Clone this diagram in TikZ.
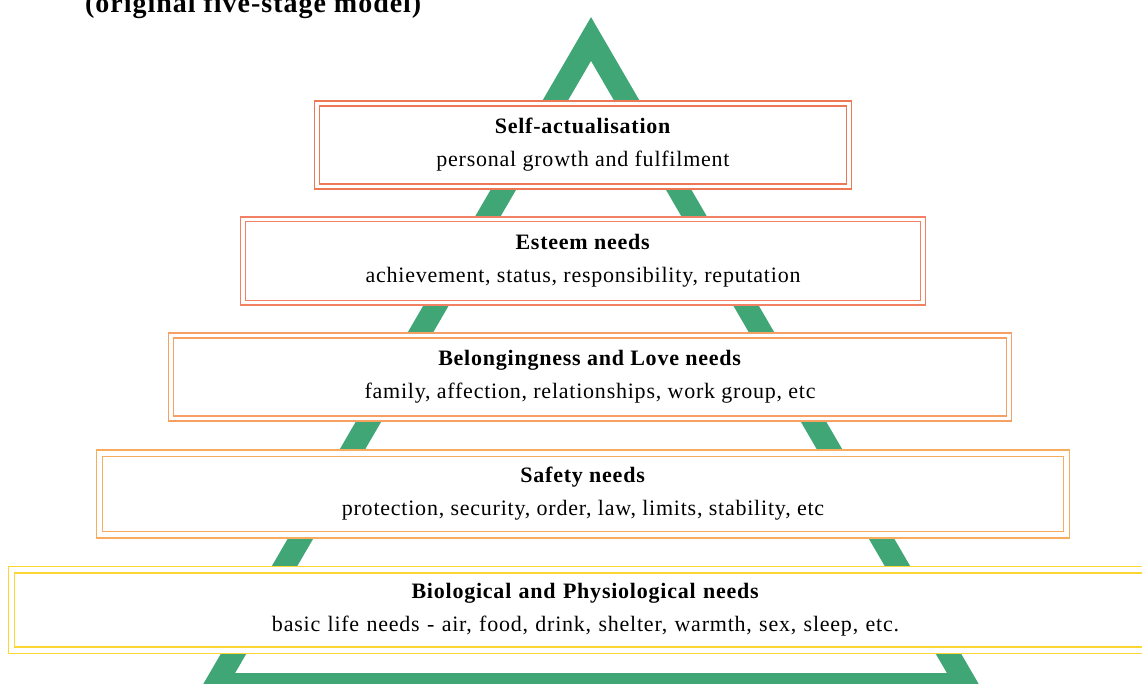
\documentclass[tikz,border=0pt]{standalone}
\usepackage{fontspec}
\setmainfont{Liberation Serif}[LetterSpace=3.5]
\definecolor{tri}{RGB}{64,166,118}
\definecolor{cA}{RGB}{236,120,86}
\definecolor{cB}{RGB}{242,128,100}
\definecolor{cC}{RGB}{246,160,100}
\definecolor{cD}{RGB}{248,172,96}
\definecolor{cE}{RGB}{252,214,50}
\tikzset{
  needbox/.style={draw=#1, line width=1.4pt, double=white, double distance=3.4pt,
    fill=white, align=center, inner sep=0pt,
    font=\fontsize{22}{33}\selectfont},
  tribar/.style={draw=tri, line width=22pt, line join=miter}
}
\begin{document}
\begin{tikzpicture}[x=1pt,y=-1pt]
\useasboundingbox (0,0) rectangle (1142,684);
\clip (0,0) rectangle (1142,684);
\fill[white] (0,0) rectangle (1142,684);
\node[anchor=base west, font=\fontsize{28}{32}\selectfont\bfseries, inner sep=0pt] (title) at (85,13) {(original five-stage model)};
\coordinate (tl) at (216,684);
\coordinate (tt) at (591,39);
\coordinate (tr) at (966,684);
\draw[tribar] (tl) -- (tt) -- (tr) -- cycle;
\node[needbox=cA, minimum width=532pt, minimum height=83pt] (self) at (583,145)
  {\textbf{Self-actualisation}\\personal growth and fulfilment};
\node[needbox=cB, minimum width=680pt, minimum height=83.5pt] (esteem) at (583,261)
  {\textbf{Esteem needs}\\achievement, status, responsibility, reputation};
\node[needbox=cC, minimum width=838pt, minimum height=83pt] (love) at (590,377)
  {\textbf{Belongingness and Love needs}\\family, affection, relationships, work group, etc};
\node[needbox=cD, double distance=5pt, minimum width=967pt, minimum height=81.5pt] (safety) at (583,494)
  {\textbf{Safety needs}\\protection, security, order, law, limits, stability, etc};
\node[needbox=cE, double distance=5pt, minimum width=1148pt, minimum height=80.5pt, text width=1148pt] (bio) at (585.5,610)
  {\textbf{Biological and Physiological needs}\\basic life needs - air, food, drink, shelter, warmth, sex, sleep, etc.};
\end{tikzpicture}
\end{document}
